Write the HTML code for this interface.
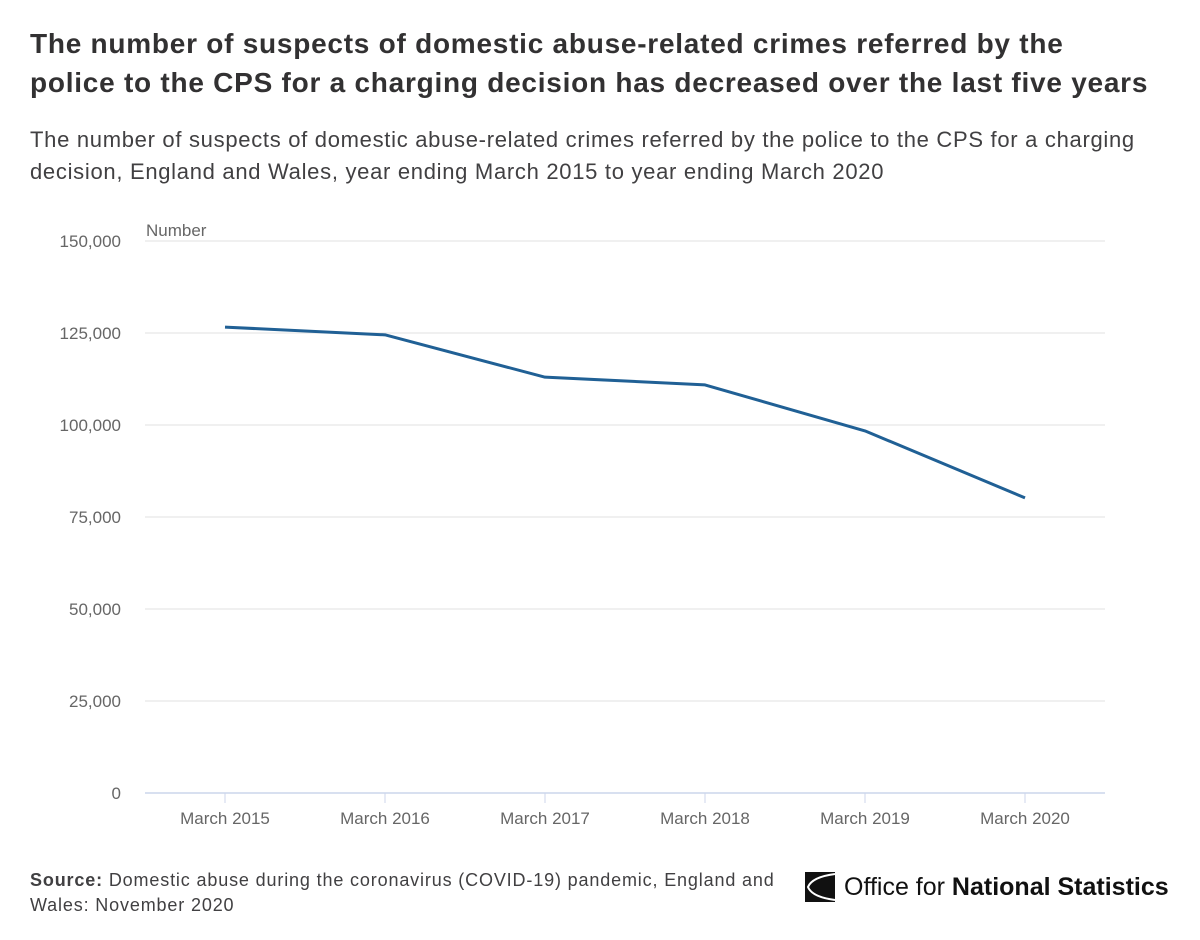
<!DOCTYPE html>
<html><head><meta charset="utf-8"><style>
body{margin:0;background:#fff;font-family:"Liberation Sans",sans-serif;}
#wrap{position:relative;width:1200px;height:940px;overflow:hidden;}
h1{position:absolute;left:30px;top:24px;margin:0;font-size:28px;line-height:39px;font-weight:bold;color:#323132;letter-spacing:0.75px;white-space:nowrap;}
.sub{position:absolute;left:30px;top:124px;font-size:22px;line-height:32px;color:#414042;letter-spacing:0.7px;white-space:nowrap;}
.src{position:absolute;left:30px;top:868px;font-size:18px;line-height:25px;color:#414042;letter-spacing:0.85px;white-space:nowrap;}
.logo{position:absolute;left:804px;top:871px;display:flex;align-items:center;font-size:25px;color:#111;}
</style></head><body>
<div id="wrap">
<h1>The number of suspects of domestic abuse-related crimes referred by the<br>police to the CPS for a charging decision has decreased over the last five years</h1>
<div class="sub">The number of suspects of domestic abuse-related crimes referred by the police to the CPS for a charging<br>decision, England and Wales, year ending March 2015 to year ending March 2020</div>
<svg id="chart" width="1200" height="940" style="position:absolute;left:0;top:0"></svg>
<div class="src"><b>Source:</b> Domestic abuse during the coronavirus (COVID-19) pandemic, England and<br>Wales: November 2020</div>
<div class="logo">
<svg width="32" height="32" viewBox="0 0 32 32"><rect x="1" y="1" width="30" height="30" fill="#111"/><path d="M31 3 Q8 6 4 16 Q8 26 31 29" stroke="#fff" stroke-width="2" fill="none"/></svg>
<span style="margin-left:8px">Office for <b>National Statistics</b></span></div>
</div>
<script>
const categories=["March 2015","March 2016","March 2017","March 2018","March 2019","March 2020"];
const values=[126600,124500,113000,110900,98400,80200];
const yTicks=[0,25000,50000,75000,100000,125000,150000];
const svg=document.getElementById('chart');
const NS='http://www.w3.org/2000/svg';
const x0=145,x1=1105,y0=793,y1=241,yMax=150000;
const xs=i=>x0+(x1-x0)/categories.length*(i+0.5);
const ys=v=>y0-(y0-y1)*v/yMax;
function mk(t,a){const e=document.createElementNS(NS,t);for(const k in a)e.setAttribute(k,a[k]);svg.appendChild(e);return e;}
yTicks.forEach(v=>{
 const g=mk('line',{x1:x0,x2:x1,y1:ys(v),y2:ys(v),stroke:v===0?'#ccd6eb':'#e6e6e6','stroke-width':v===0?1.5:1.2});
 
 
 const t=mk('text',{x:121,y:ys(v)+6,'text-anchor':'end','font-size':17,fill:'#666','font-family':'Liberation Sans, sans-serif'});
 t.textContent=v.toLocaleString('en-GB');
 
 
});
const yt=mk('text',{x:146,y:236,'font-size':17,fill:'#666','font-family':'Liberation Sans, sans-serif'});
yt.textContent='Number';


categories.forEach((c,i)=>{
 const tk=mk('line',{x1:xs(i),x2:xs(i),y1:y0,y2:y0+10,stroke:'#ccd6eb','stroke-width':1});
 
 
 const t=mk('text',{x:xs(i),y:824,'text-anchor':'middle','font-size':17,fill:'#666','font-family':'Liberation Sans, sans-serif'});
 t.textContent=c;
 
 
});
const p=mk('polyline',{points:values.map((v,i)=>xs(i)+','+ys(v)).join(' '),fill:'none',stroke:'#206095','stroke-width':3,'stroke-linejoin':'round'});


</script>
</body></html>
